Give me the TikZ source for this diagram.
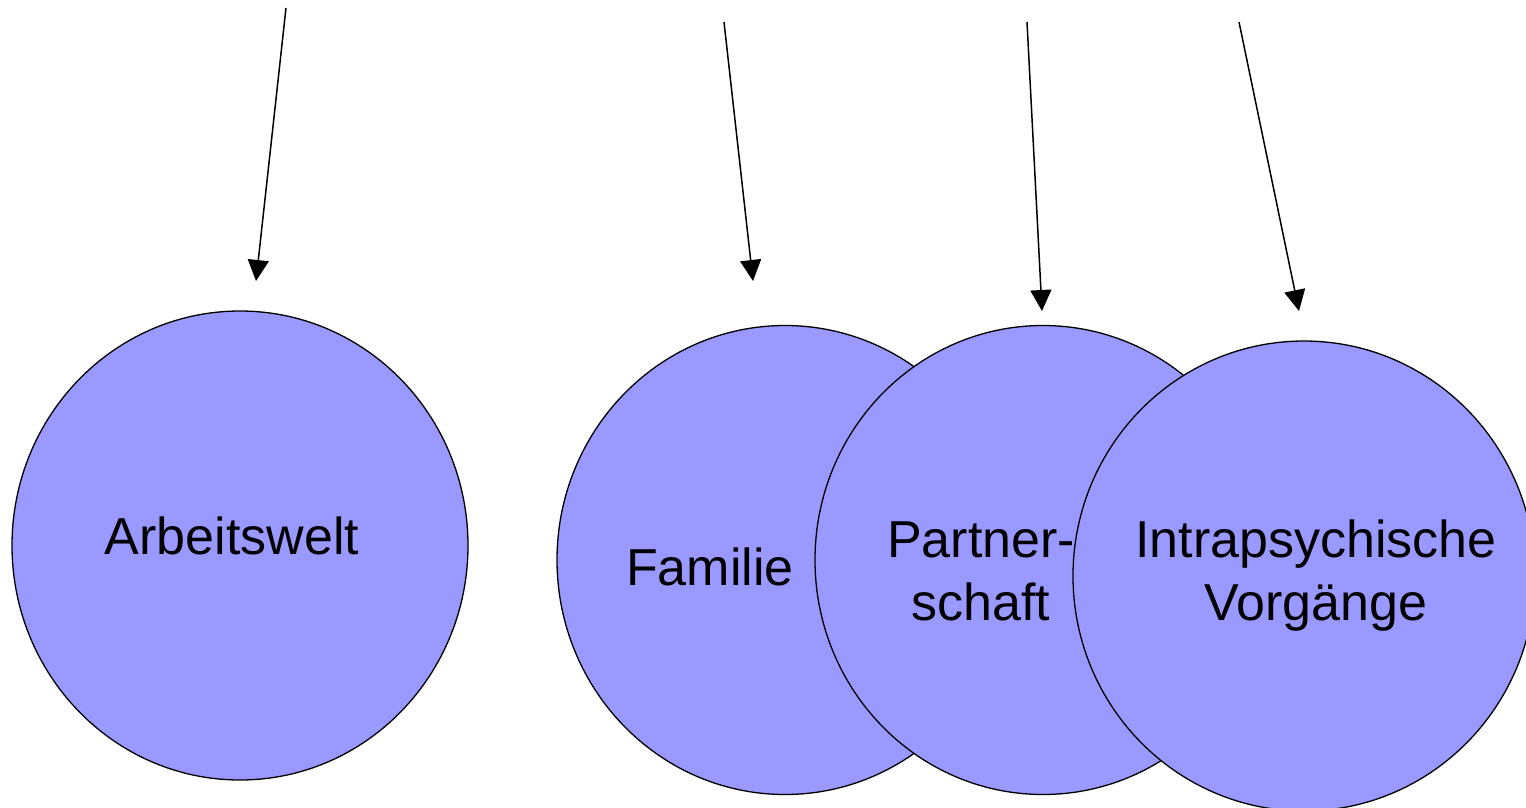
\documentclass[tikz,border=0pt]{standalone}
\usepackage{fontspec}
\setmainfont{Liberation Sans}
\usetikzlibrary{shapes.geometric,arrows.meta}
\definecolor{circfill}{HTML}{9999FF}
\begin{document}
\begin{tikzpicture}[x=1pt,y=-1pt,
  bubble/.style={ellipse,draw=black,line width=1.3pt,fill=circfill,inner sep=0pt,
    minimum width=456pt,minimum height=469pt},
  lbl/.style={font=\fontsize{52}{63}\selectfont,align=center,inner sep=0pt,anchor=base},
  pointer/.style={line width=1.5pt,-{Triangle[length=21pt,width=21pt]}}]
\useasboundingbox (0,0) rectangle (1526,807);
% circles and labels
\node[bubble] (arb) at (240,545.5) {};
\node[lbl] (arbT) at (232,554) {Arbeitswelt};
\node[bubble] (fam) at (785,560) {};
\node[lbl] (famT) at (710,585) {Familie};
\node[bubble] (par) at (1043,560) {};
\node[lbl] (parT) at (981,620) {Partner-\\schaft};
\node[bubble,minimum width=462pt,minimum height=470pt] (intra) at (1304,576) {};
\node[lbl] (intraT) at (1316,620) {Intrapsychische\\Vorgänge};
% arrows
\coordinate (s1) at (286,8);   \coordinate (e1) at (256,281);
\coordinate (s2) at (724,22);  \coordinate (e2) at (753,281);
\coordinate (s3) at (1027,22); \coordinate (e3) at (1042,311);
\coordinate (s4) at (1239,22); \coordinate (e4) at (1299,311);
\draw[pointer] (s1) -- (e1);
\draw[pointer] (s2) -- (e2);
\draw[pointer] (s3) -- (e3);
\draw[pointer] (s4) -- (e4);
\end{tikzpicture}
\end{document}
